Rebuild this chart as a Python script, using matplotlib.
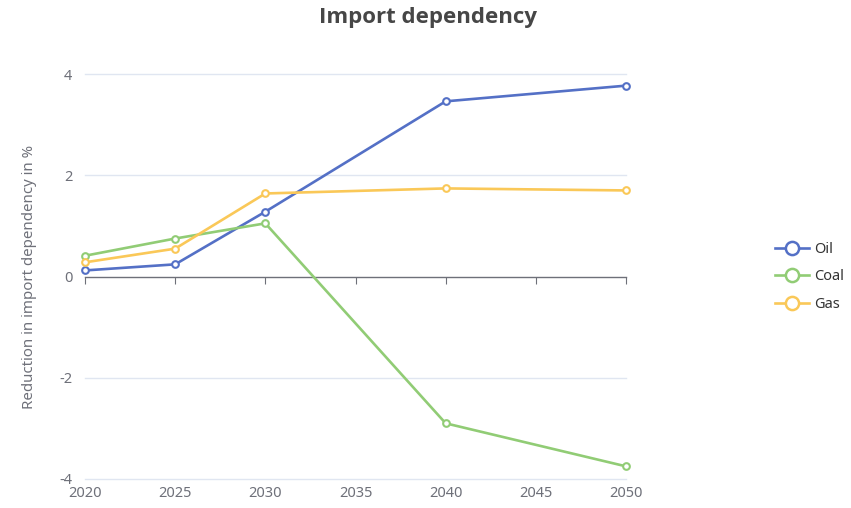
import matplotlib
matplotlib.use("Agg")
import matplotlib.pyplot as plt
from matplotlib.lines import Line2D

plt.rcParams['font.family'] = ['Noto Sans', 'DejaVu Sans']
plt.rcParams['axes.unicode_minus'] = False

years = [2020, 2025, 2030, 2040, 2050]
oil = [0.12, 0.24, 1.28, 3.46, 3.77]
coal = [0.41, 0.75, 1.05, -2.90, -3.75]
gas = [0.28, 0.55, 1.64, 1.74, 1.70]
series_names = ["Oil", "Coal", "Gas"]
series_colors = ["#5470c6", "#91cc75", "#fac858"]
x_ticks = [2020, 2025, 2030, 2035, 2040, 2045, 2050]
y_ticks = [-4, -2, 0, 2, 4]

axis_color = "#6E7079"
grid_color = "#E0E6F1"

fig = plt.figure(figsize=(8.51, 5.08), dpi=100)
ax = fig.add_axes([85 / 851, 1 - 479 / 508, (626 - 85) / 851, (479 - 74) / 508])

for vals, name, color in zip([oil, coal, gas], series_names, series_colors):
    ax.plot(years, vals, color=color, lw=1.9, marker='o', markersize=4.8,
            markerfacecolor='white', markeredgecolor=color, markeredgewidth=1.5,
            label=name, zorder=3, clip_on=False)

ax.set_xlim(2020, 2050)
ax.set_ylim(-4, 4)
ax.set_yticks(y_ticks)
ax.set_xticks(x_ticks)

# horizontal grid lines, kept visible at the plot edges
for y in y_ticks:
    if y != 0:
        ax.axhline(y, color=grid_color, lw=1, zorder=0, clip_on=False)

for s in ['top', 'right', 'left']:
    ax.spines[s].set_visible(False)
ax.spines['bottom'].set_position(('data', 0))
ax.spines['bottom'].set_color(axis_color)
ax.spines['bottom'].set_linewidth(1)
ax.tick_params(axis='x', direction='out', length=5, color=axis_color,
               labelbottom=False)
ax.tick_params(axis='y', length=0, labelcolor=axis_color, labelsize=10.5, pad=9)

# year labels along the bottom edge of the plot
sec = ax.secondary_xaxis(0)
sec.set_xticks(x_ticks)
sec.tick_params(length=0, labelcolor=axis_color, labelsize=10.5, pad=5)
sec.spines['bottom'].set_visible(False)

ax.set_ylabel("Reduction in import dependency in %", color=axis_color,
              fontsize=10.8, labelpad=16)

fig.text(428 / 851, 1 - 18 / 508, "Import dependency", ha='center', va='center',
         fontsize=16, fontweight='bold', color='#464646',
         family=['Open Sans', 'DejaVu Sans'])

handles = [Line2D([], [], color=c, lw=1.9, marker='o', markersize=9.5,
                  markerfacecolor='white', markeredgecolor=c, markeredgewidth=1.8)
           for c in series_colors]
fig.legend(handles, series_names, loc='center left',
           bbox_to_anchor=(762 / 851, 1 - 277 / 508), frameon=False,
           fontsize=10.5, handlelength=2.3, handletextpad=0.4, labelspacing=0.85,
           labelcolor='#333333')

fig.savefig("out.png", dpi=100)
